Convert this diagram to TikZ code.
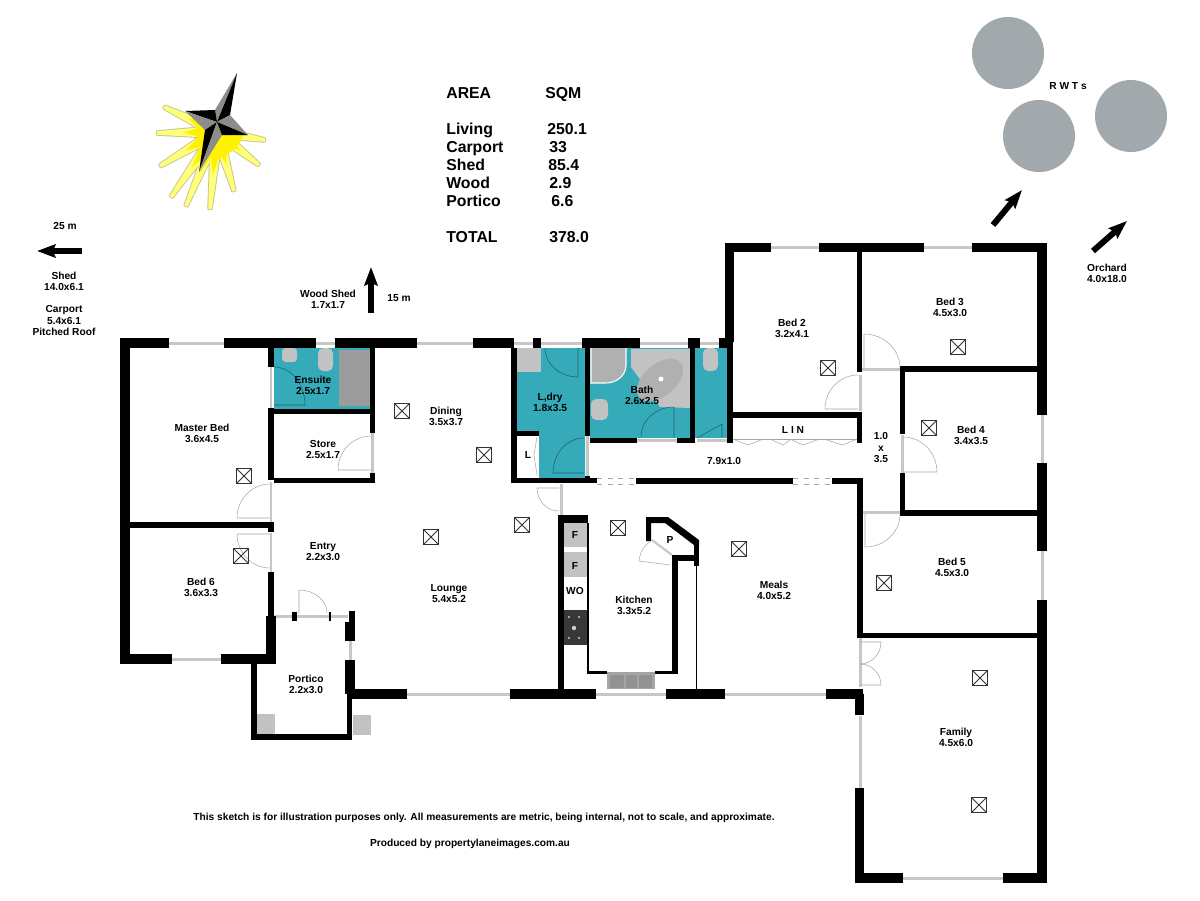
\documentclass[tikz,border=0pt]{standalone}
\usepackage{fontspec}
\setmainfont{Liberation Sans}
\usetikzlibrary{arrows.meta,calc}
\definecolor{tealroom}{HTML}{35ABB9}
\definecolor{fixture}{HTML}{C2C2C2}
\definecolor{tubgray}{HTML}{9C9C9C}
\definecolor{tankgray}{HTML}{A2A9AD}
\definecolor{raypale}{HTML}{FFFF78}
\definecolor{rayedge}{HTML}{C6C69A}
\tikzset{
	roomlabel/.style={font=\fontsize{5.8}{6.4}\selectfont\bfseries,align=center,inner sep=0pt},
	tablelabel/.style={font=\fontsize{9}{10}\selectfont\bfseries,anchor=base west,inner sep=0pt},
	winbar/.style={line width=1.7pt,color=black!22},
	doorleaf/.style={line width=0.3pt,color=black!35},
	tealleaf/.style={line width=0.3pt,color=tealroom!55!black},
	bigarrow/.style={line width=3.4pt,-{Stealth[length=10.5pt,width=7.5pt,inset=1.5pt]}},
	fanbox/.style={line width=0.45pt,color=black!80},
}
\begin{document}
\begin{tikzpicture}[x=0.02cm,y=-0.02cm,line join=miter,font=\fontsize{5.8}{6.4}\selectfont]
	\useasboundingbox[fill=white] (0,0) rectangle (1200,900);
	% sun and compass
	\coordinate (sunmid) at (217,132);
	\foreach \tx/\ty in {164/107,157/133,160/166,171/197,186/206,210/209,234/191,259/165,265/140}{
		\coordinate (raytip) at (\tx,\ty);
		\filldraw[draw=rayedge,line width=1.1pt,line join=round,fill=rayedge]
		($(sunmid)!3.5pt!90:(raytip)$)--($(raytip)!1pt!-90:(sunmid)$)--($(raytip)!1pt!90:(sunmid)$)--($(sunmid)!3.5pt!-90:(raytip)$)--cycle;
	}
	\foreach \tx/\ty in {164/107,157/133,160/166,171/197,186/206,210/209,234/191,259/165,265/140}{
		\coordinate (raytip) at (\tx,\ty);
		\fill[raypale]
		($(sunmid)!3.5pt!90:(raytip)$)--($(raytip)!1pt!-90:(sunmid)$)--($(raytip)!1pt!90:(sunmid)$)--($(sunmid)!3.5pt!-90:(raytip)$)--cycle;
		\fill[yellow] ($(sunmid)!6pt!90:(raytip)$)--($(sunmid)!0.55!(raytip)$)--($(sunmid)!6pt!-90:(raytip)$)--cycle;
	}
	\fill[yellow] (196,120)--(215,110)--(244,135)--(236,148)--(222,158)--(208,158)--(201,148)--cycle;
	\fill[black!45] (237,73)--(215,110)--(217,122)--cycle;
	\fill[black] (237,73)--(230,115)--(217,122)--cycle;
	\fill[black] (185,111)--(215,110)--(217,122)--cycle;
	\fill[black!45] (185,111)--(205,130)--(217,122)--cycle;
	\fill[black] (199,172)--(205,130)--(217,122)--cycle;
	\fill[black!45] (199,172)--(222,135)--(217,122)--cycle;
	\fill[black!45] (248,135)--(230,115)--(217,122)--cycle;
	\fill[black] (248,135)--(222,135)--(217,122)--cycle;
	% water tanks
	\fill[tankgray] (1008,53) circle (36);
	\fill[tankgray] (1039,136) circle (36);
	\fill[tankgray] (1131,116) circle (36);
	% wet rooms
	\fill[tealroom] (274,348) rectangle (370,409);
	\fill[tealroom] (517,348)--(585,348)--(585,478)--(539,478)--(539,431)--(517,431)--cycle;
	\fill[tealroom] (590,348) rectangle (690,438);
	\fill[tealroom] (695,348) rectangle (727,438);
	% fixtures
	\fill[tubgray] (339,350) rectangle (370,406);
	\fill[fixture,rounded corners=2pt] (282,348) rectangle (297,362);
	\fill[fixture,rounded corners=3pt] (318,348) rectangle (333,371);
	\fill[fixture] (517,348) rectangle (541,372);
	\filldraw[fill=tubgray!80,draw=white,line width=0.6pt] (591,347)--(626,347)--(626,365) to[out=-90,in=0] (606,383)--(591,383)--cycle;
	\fill[fixture,rounded corners=3pt] (591,399) rectangle (608,420);
	\fill[fixture] (631,349)--(691,349)--(691,408)--(660,407)--(631,367)--cycle;
	\fill[tubgray!80,rotate around={40:(660,380)}] (660,380) ellipse (27 and 16);
	\fill[white] (661,379) circle (2.5);
	\fill[fixture,rounded corners=3pt] (703,348) rectangle (718,371);
	\fill[fixture] (563,523) rectangle (588,547);
	\fill[fixture] (564,552) rectangle (588,577);
	\fill[black!78] (562,610) rectangle (587,645);
	\foreach \dx/\dy in {569/617,579/617,569/638,579/638}{
		\fill[black!20] (\dx,\dy) circle (1.2);
	}
	\fill[black!20] (574,628) circle (2.2);
	\fill[fixture] (257,714) rectangle (275,734);
	\fill[fixture] (353,715) rectangle (371,735);
	% windows and door strips
	\foreach \xa/\xb/\yy in {169/224/343,316/335/343,417/473/343,514/533/343,541/582/343,640/688/343,700/719/343,771/819/247.5,924/972/247.5,172/221/659,407/510/694,596/666/694,725/826/694,903/1003/878,637/677/440.5,697/727/440.5,862/902/369.5,863/902/512.5,274/292/616.5,297/329/616.5,331/348/616.5}{
		\draw[winbar] (\xa,\yy)--(\xb,\yy);
	}
	\foreach \ya/\yb/\xx in {367/408/271,482/522/271,533/572/271,433/473/372.5,436/476/587,375/411/860,638/687/860,716/788/860,435/473/902.5,484/515/561,641/660/350.5,415/463/1042,551/600/1042}{
		\draw[winbar] (\xx,\ya)--(\xx,\yb);
	}
	\draw[black!35,dashed,line width=0.3pt] (597,478)--(636,478) (597,484)--(636,484) (793,478)--(832,478) (793,484)--(832,484);
	% walls
	\foreach \xa/\ya/\xb/\yb in {120/338/169/348,224/338/316/348,335/338/417/348,473/338/514/348,533/338/541/348,582/338/640/348,688/338/700/348,719/338/733/348,
		120/338/130/664,120/654/172/664,221/654/276/664,268/348/274/367,268/408/274/480,268/522/274/532,268/572/274/616,266/616/276/664,
		274/409/375/414,370/348/375/433,370/473/375/483,274/478/375/483,130/522/268/528,
		251/664/257/740,251/734/352/740,347/694/352/740,349/611/355/622,345/622/355/641,345/660/355/694,352/689/407/699,292/612/297/621,329/612/331/621,
		510/689/596/699,666/689/725/699,826/689/863/699,
		511/348/517/483,585/348/590/436,585/476/590/483,511/478/597/483,517/431/539/436,636/478/793/484,832/478/863/484,857/478/863/638,857/633/1047/638,
		590/438/637/443,677/438/695/443,690/348/695/443,727/342/733/443,725/243/734/342,
		725/243/771/252,819/243/924/252,972/243/1047/252,857/252/862/372,857/412/862/443,727/412/862/418,
		902/366/1047/372,900/366/905/434,900/473/905/516,903/510/1047/516,
		1037/243/1047/415,1037/463/1047/551,1037/600/1047/883,
		855/694/864/715,855/788/864/883,855/873/903/883,1003/873/1047/883,
		558/515/564/689,558/515/588/523,587/523/588.5/672,587/671/607/673.5,655/671/678/673.5,672/555/678/673,672/555/699/561,694/540/699/566}{
		\fill (\xa,\ya) rectangle (\xb,\yb);
	}
	\fill (646,517)--(668,517)--(699,540)--(699,545)--(694,545)--(665,523)--(651,523)--(651,541)--(646,541)--cycle;
	\draw[line width=0.7pt] (696.5,566)--(696.5,689);
	% kitchen sink
	\fill[fixture!85!black] (607,672) rectangle (655,689);
	\foreach \xa/\xb in {610/624,626/637,639/652}{
		\fill[fixture!75!black] (\xa,675) rectangle (\xb,688);
	}
	% door swings
	\draw[doorleaf] (237,518)--(270,518) (237,518) arc (180:270:33 and 34);
	\draw[doorleaf] (270,534)--(237,534) (270,568) arc (90:180:33 and 34);
	\draw[doorleaf] (371,470)--(338,470) (338,470) arc (180:270:33 and 34);
	\draw[doorleaf] (299,613)--(299,590) (327,613) arc (0:-90:28 and 23);
	\draw[doorleaf] (537,488)--(559,488) (559,511) arc (90:180:22 and 23);
	\draw[doorleaf] (825,409)--(858,409) (825,409) arc (180:270:33 and 34);
	\draw[doorleaf] (864,368)--(864,334) (900,368) arc (0:-90:36 and 34);
	\draw[doorleaf] (937,472)--(903,472) (937,472) arc (0:-90:34 and 35);
	\draw[doorleaf] (865,514)--(865,547) (865,547) arc (90:0:35 and 33);
	\draw[doorleaf] (860,642)--(881,642) (881,642) arc (0:90:21 and 22);
	\draw[doorleaf] (860,685)--(881,685) (881,685) arc (0:-90:21 and 21);
	\draw[doorleaf] (651,541) to[bend right=25] (639,561)--(670,565);
	\draw[winbar,line width=1.2pt] (652,540)--(672,555);
	\draw[tealleaf] (274,367) arc (-90:0:31 and 38)--(274,405);
	\draw[tealleaf] (578,348)--(578,377) (578,377) arc (90:180:33 and 29);
	\draw[tealleaf] (553,473)--(584,473) (553,473) arc (180:270:31 and 35);
	\draw[tealleaf] (674,437)--(674,407) (674,407) arc (270:180:33 and 30);
	\draw[tealleaf] (697,438)--(722,424)--(722,437);
	\draw[doorleaf] (537,437)--(534,455)--(537,475);
	\draw[doorleaf] (733,439)--(857,439);
	\draw[doorleaf] (735,440)--(748,445)--(761,440) (772,440)--(783,445)--(790,440) (792,440)--(803,445)--(817,440) (827,440)--(842,445)--(855,440);
	% ceiling fans
	\foreach \fx/\fy in {402/411,484/455,522/525,431/537,618/528,739/549,244/476,241/556,828/368,958/347,929/428,884/583,980/678,979/805}{
		\draw[fanbox] (\fx-7.5,\fy-7.5) rectangle (\fx+7.5,\fy+7.5) (\fx-7.5,\fy-7.5)--(\fx+7.5,\fy+7.5) (\fx-7.5,\fy+7.5)--(\fx+7.5,\fy-7.5);
	}
	% outside arrows
	\coordinate (shedtail) at (82,251);
	\coordinate (shedtip) at (37,251);
	\coordinate (woodtail) at (371,313);
	\coordinate (woodtip) at (371,267);
	\coordinate (tanktail) at (993,225);
	\coordinate (tanktip) at (1022,190);
	\coordinate (orchtail) at (1093,251);
	\coordinate (orchtip) at (1127,221);
	\draw[bigarrow] (shedtail)--(shedtip);
	\draw[bigarrow] (woodtail)--(woodtip);
	\draw[bigarrow] (tanktail)--(tanktip);
	\draw[bigarrow] (orchtail)--(orchtip);
	% area table
	\node[tablelabel] (areahead) at (446,98) {AREA};
	\node[tablelabel] (sqmhead) at (545,98) {SQM};
	\node[tablelabel] (livingname) at (446,134) {Living};
	\node[tablelabel] (livingval) at (547,134) {250.1};
	\node[tablelabel] (carportname) at (446,152) {Carport};
	\node[tablelabel] (carportval) at (549,152) {33};
	\node[tablelabel] (shedname) at (446,170) {Shed};
	\node[tablelabel] (shedval) at (548,170) {85.4};
	\node[tablelabel] (woodname) at (446,188) {Wood};
	\node[tablelabel] (woodval) at (549,188) {2.9};
	\node[tablelabel] (porticoname) at (446,206) {Portico};
	\node[tablelabel] (porticoval) at (551,206) {6.6};
	\node[tablelabel] (totalname) at (446,242) {TOTAL};
	\node[tablelabel] (totalval) at (549,242) {378.0};
	% room labels
	\node[roomlabel] (masterbed) at (202,433) {Master Bed\\3.6x4.5};
	\node[roomlabel] (ensuite) at (313,385.5) {Ensuite\\2.5x1.7};
	\node[roomlabel] (store) at (323,449.5) {Store\\2.5x1.7};
	\node[roomlabel] (dining) at (446,416.5) {Dining\\3.5x3.7};
	\node[roomlabel] (ldry) at (550,402.5) {L,dry\\1.8x3.5};
	\node[roomlabel] (bath) at (642,395.5) {Bath\\2.6x2.5};
	\node[roomlabel] (bedtwo) at (792,328.5) {Bed 2\\3.2x4.1};
	\node[roomlabel] (bedthree) at (950,307.5) {Bed 3\\4.5x3.0};
	\node[roomlabel] (bedfour) at (971,435.5) {Bed 4\\3.4x3.5};
	\node[roomlabel] (bedfive) at (952,567.5) {Bed 5\\4.5x3.0};
	\node[roomlabel] (bedsix) at (201,587.5) {Bed 6\\3.6x3.3};
	\node[roomlabel] (passage) at (881,447.5) {1.0\\x\\3.5};
	\node[roomlabel] (hall) at (724,461) {7.9x1.0};
	\node[roomlabel] (linen) at (793,430) {L I N};
	\node[roomlabel] (meals) at (774,590.5) {Meals\\4.0x5.2};
	\node[roomlabel] (kitchen) at (634,605.5) {Kitchen\\3.3x5.2};
	\node[roomlabel] (lounge) at (449,593.5) {Lounge\\5.4x5.2};
	\node[roomlabel] (entry) at (323,551.5) {Entry\\2.2x3.0};
	\node[roomlabel] (portico) at (306,684.5) {Portico\\2.2x3.0};
	\node[roomlabel] (family) at (956,737.5) {Family\\4.5x6.0};
	\node[roomlabel] (fridgea) at (575,535) {F};
	\node[roomlabel] (fridgeb) at (575,566) {F};
	\node[roomlabel] (oven) at (575,591) {WO};
	\node[roomlabel] (pantry) at (670,540) {P};
	\node[roomlabel] (laundrycup) at (528,455) {L};
	% outside labels
	\node[roomlabel] (shedm) at (65,226) {25 m};
	\node[roomlabel] (shedlabel) at (64,281.5) {Shed\\14.0x6.1};
	\node[roomlabel] (carport) at (64,320.5) {Carport\\5.4x6.1\\Pitched Roof};
	\node[roomlabel] (woodshed) at (328,299.5) {Wood Shed\\1.7x1.7};
	\node[roomlabel] (woodm) at (399,298) {15 m};
	\node[roomlabel] (orchard) at (1107,273.5) {Orchard\\4.0x18.0};
	\node[roomlabel] (tanks) at (1068,86) {R W T s};
	\node[roomlabel] (disclaimer) at (484,818) {This sketch is for illustration purposes only. All measurements are metric, being internal, not to scale, and approximate.};
	\node[roomlabel] (producer) at (470,844) {Produced by propertylaneimages.com.au};
\end{tikzpicture}
\end{document}
